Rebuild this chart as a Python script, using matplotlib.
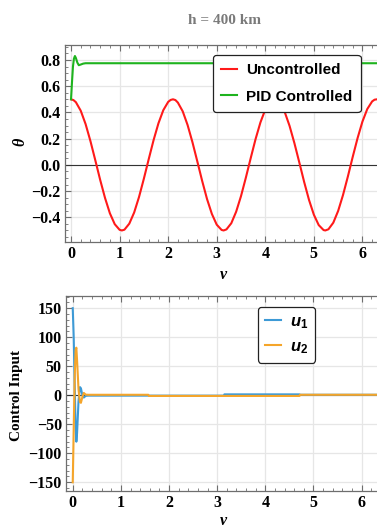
import matplotlib
matplotlib.use("Agg")
import matplotlib.pyplot as plt
from matplotlib.ticker import MultipleLocator

# --- data ---
nu = [0.0, 0.05, 0.1, 0.2, 0.3, 0.4, 0.5, 0.6, 0.7, 0.8, 0.9,
      1.0, 1.047, 1.1, 1.2, 1.3, 1.4, 1.5, 1.6, 1.7, 1.8, 1.9,
      2.0, 2.05, 2.1, 2.15, 2.2, 2.3, 2.4, 2.5, 2.6, 2.7, 2.8, 2.9,
      3.0, 3.1, 3.142, 3.2, 3.3, 3.4, 3.5, 3.6, 3.7, 3.8, 3.9,
      4.0, 4.1, 4.15, 4.2, 4.25, 4.3, 4.4, 4.5, 4.6, 4.7, 4.8, 4.9,
      5.0, 5.1, 5.2, 5.236, 5.3, 5.4, 5.5, 5.6, 5.7, 5.8, 5.9,
      6.0, 6.1, 6.2, 6.25, 6.3]
theta_unc = [0.500, 0.494, 0.478, 0.413, 0.311, 0.181, 0.035, -0.114, -0.252, -0.369, -0.452,
             -0.495, -0.500, -0.494, -0.448, -0.363, -0.245, -0.105, 0.044, 0.189, 0.317, 0.417,
             0.480, 0.495, 0.500, 0.494, 0.475, 0.408, 0.304, 0.173, 0.027, -0.122, -0.260, -0.374,
             -0.456, -0.496, -0.500, -0.492, -0.445, -0.357, -0.238, -0.097, 0.052, 0.197, 0.324,
             0.422, 0.482, 0.496, 0.500, 0.493, 0.472, 0.403, 0.297, 0.165, 0.019, -0.130, -0.267,
             -0.380, -0.459, -0.497, -0.500, -0.491, -0.441, -0.351, -0.230, -0.089, 0.061, 0.204,
             0.330, 0.426, 0.484, 0.497, 0.500]

nu_pid = [0.0, 0.02, 0.04, 0.06, 0.08, 0.10, 0.13, 0.16, 0.20, 0.25, 0.30, 6.3]
theta_pid = [0.50, 0.63, 0.75, 0.81, 0.83, 0.815, 0.78, 0.76, 0.765, 0.772, 0.775, 0.775]

nu_u = [0.0, 0.02, 0.04, 0.06, 0.075, 0.09, 0.12, 0.15, 0.17, 0.20, 0.23, 0.27, 0.32,
        1.57, 1.58, 3.14, 3.15, 4.71, 4.72, 6.3]
u1 = [150, 100, 20, -55, -80, -65, -10, 14, 12, 0, -4, -1, -0.6,
      -0.6, -0.8, -0.8, 1.5, 1.5, 0.8, 0.8]
u2 = [-150, -60, 30, 78, 82, 60, 10, -12, -13, -3, 4, 1, 0.8,
      0.8, -1.2, -1.2, -1.2, -1.2, 0.8, 0.8]

plt.rcParams['font.family'] = ['Liberation Serif', 'DejaVu Serif']
plt.rcParams['mathtext.fontset'] = 'custom'
plt.rcParams['mathtext.it'] = 'Liberation Sans:italic:bold'
plt.rcParams['mathtext.rm'] = 'Liberation Sans:bold'

fig = plt.figure(figsize=(3.77, 5.29), dpi=100)
W, H = 377.0, 529.0

frame_col = '#6e6e6e'
grid_col = '#e6e6e6'
xt = [0, 1, 2, 3, 4, 5, 6]


def style_axes(ax, ymaj, ymin):
    ax.xaxis.set_major_locator(MultipleLocator(1))
    ax.xaxis.set_minor_locator(MultipleLocator(0.2))
    ax.yaxis.set_major_locator(MultipleLocator(ymaj))
    ax.yaxis.set_minor_locator(MultipleLocator(ymin))
    ax.tick_params(which='both', direction='in', top=True, right=False,
                   color=frame_col, labelsize=11.5, pad=3)
    ax.tick_params(which='major', length=4, width=0.8)
    ax.tick_params(which='minor', length=2.2, width=0.6)
    for side, sp in ax.spines.items():
        sp.set_color(frame_col)
        sp.set_linewidth(0.9)
    ax.spines['right'].set_visible(False)
    ax.grid(True, which='major', color=grid_col, lw=0.9)
    ax.set_axisbelow(True)
    ax.axhline(0, color='#333333', lw=0.8, zorder=1.5)


# top panel
ax1 = fig.add_axes([65 / W, 1 - 242 / H, (377 - 65) / W, (242 - 45) / H])
ax1.plot(nu, theta_unc, color='#ff1a1a', lw=1.5, label='Uncontrolled')
ax1.plot(nu_pid, theta_pid, color='#1eb31e', lw=1.5, label='PID Controlled')
ax1.set_xlim(-0.124, 6.30)
ax1.set_ylim(-0.588, 0.914)
style_axes(ax1, 0.2, 0.05)
ax1.set_yticks([-0.4, -0.2, 0.0, 0.2, 0.4, 0.6, 0.8])
ax1.set_yticklabels(['\u22120.4', '\u22120.2', '0.0', '0.2', '0.4', '0.6', '0.8'],
                    fontweight='bold')
ax1.set_xticks(xt)
ax1.set_xticklabels([str(v) for v in xt], fontweight='bold')
leg1 = ax1.legend(loc='upper left', bbox_to_anchor=(213 / W, 1 - 55 / H),
                  bbox_transform=fig.transFigure, fancybox=True, framealpha=1,
                  edgecolor='#222222', handlelength=1.05, handletextpad=0.55,
                  borderpad=0.55, labelspacing=0.8, borderaxespad=0,
                  prop={'family': 'Liberation Sans', 'weight': 'bold', 'size': 11})
leg1.get_frame().set_linewidth(0.9)

# bottom panel
ax2 = fig.add_axes([66 / W, 1 - 491 / H, (377 - 66) / W, (491 - 296) / H])
ax2.plot(nu_u, u1, color='#3d9ad6', lw=1.5, label='$u_1$')
ax2.plot(nu_u, u2, color='#f5a52a', lw=1.5, label='$u_2$')
ax2.set_xlim(-0.14, 6.32)
ax2.set_ylim(-165, 171)
style_axes(ax2, 50, 10)
ax2.set_yticks([-150, -100, -50, 0, 50, 100, 150])
ax2.set_yticklabels(['\u2212150', '\u2212100', '\u221250', '0', '50', '100', '150'],
                    fontweight='bold')
ax2.set_xticks(xt)
ax2.set_xticklabels([str(v) for v in xt], fontweight='bold')
leg2 = ax2.legend(loc='upper left', bbox_to_anchor=(258 / W, 1 - 307 / H),
                  bbox_transform=fig.transFigure, fancybox=True, framealpha=1,
                  edgecolor='#222222', handlelength=0.95, handletextpad=0.55,
                  borderpad=0.42, labelspacing=0.5, borderaxespad=0,
                  prop={'size': 12})
leg2.get_frame().set_linewidth(0.9)

# titles and labels
fig.text(224 / W, 1 - 20 / H, 'h = 400 km', ha='center', va='center',
         fontsize=11, fontweight='bold', color='#7a7a7a')
fig.text(20 / W, 1 - 142 / H, '\u03b8', ha='center', va='center', rotation=90,
         fontsize=11.5, fontweight='bold', fontstyle='italic')
fig.text(223 / W, 1 - 275 / H, '\u03bd', ha='center', va='center',
         fontsize=11.5, fontweight='bold', fontstyle='italic')
fig.text(17 / W, 1 - 395 / H, 'Control Input', ha='center', va='center',
         rotation=90, fontsize=11, fontweight='bold')
fig.text(223 / W, 1 - 521 / H, '\u03bd', ha='center', va='center',
         fontsize=11.5, fontweight='bold', fontstyle='italic')

fig.savefig('out.png', dpi=100)
